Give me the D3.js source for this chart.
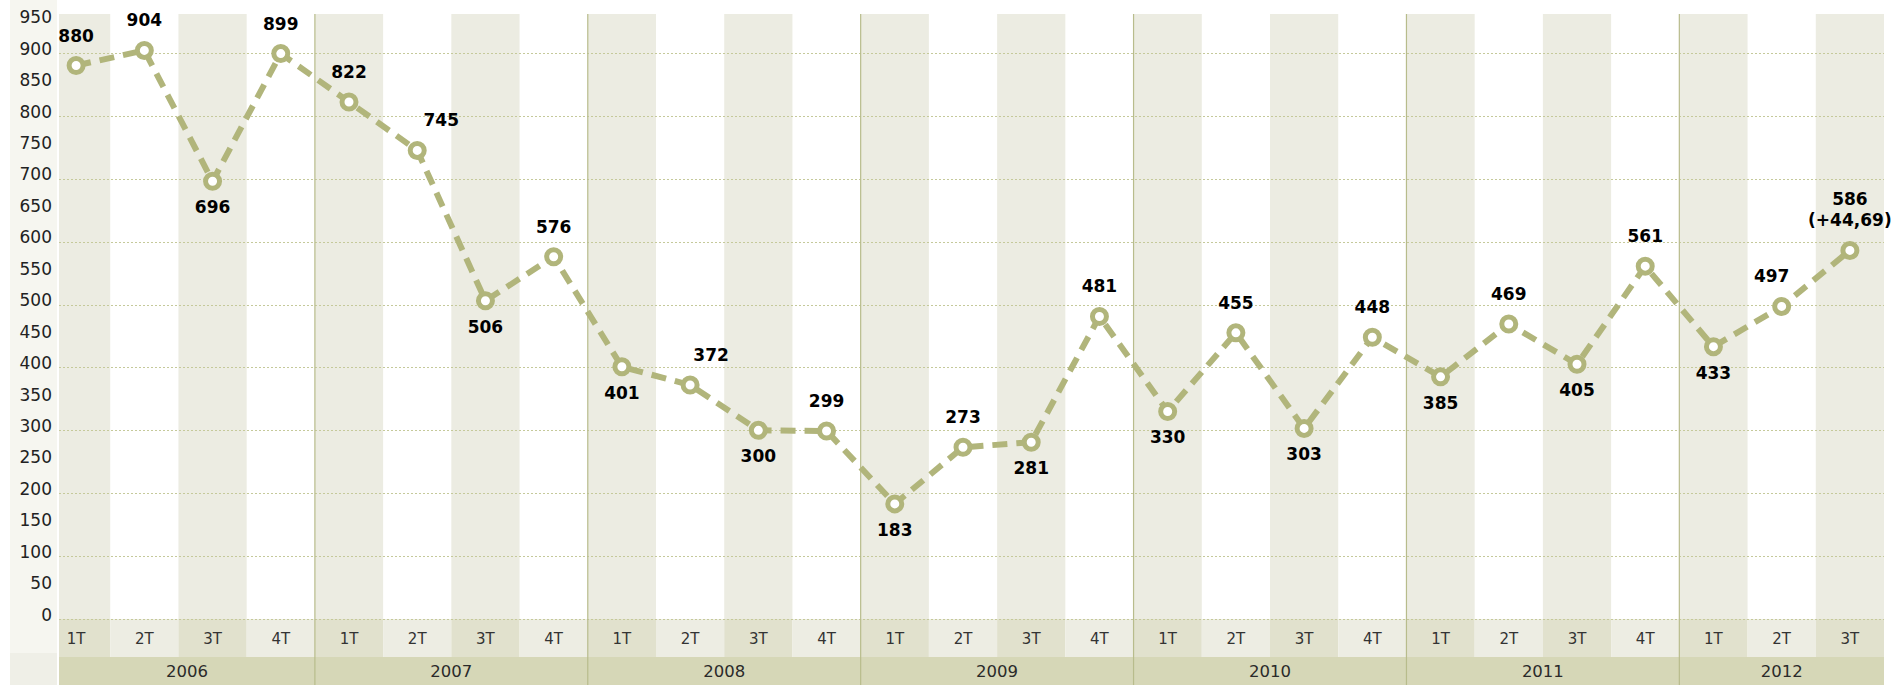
<!DOCTYPE html>
<html>
<head>
<meta charset="utf-8">
<script src="https://cdn.jsdelivr.net/npm/d3@7"></script>
<style>
  html, body { margin: 0; padding: 0; background: #fff; }
  svg { display: block; font-family: "DejaVu Sans", Verdana, sans-serif; }
</style>
</head>
<body>
<svg id="chart" width="1903" height="685"></svg>
<script>
// data
var years = ['2006', '2007', '2008', '2009', '2010', '2011', '2012'];
var quarters = ['1T', '2T', '3T', '4T'];
var values = [880, 904, 696, 899, 822, 745, 506, 576, 401, 372, 300, 299,
  183, 273, 281, 481, 330, 455, 303, 448, 385, 469, 405, 561, 433, 497, 586];
var lastNote = '(+44,69)';
var yTicks = d3.range(0, 951, 50);
var gridTicks = d3.range(0, 901, 100);

// label placement: 't' above the point, 'b' below
var labelSide = ['t', 't', 'b', 't', 't', 't', 'b', 't', 'b', 't', 'b', 't',
  'b', 't', 'b', 't', 'b', 't', 'b', 't', 'b', 't', 'b', 't', 'b', 't', 't'];
var labelNudge = {5: 24, 9: 21, 25: -10};

// quarter keys, years x quarters, trimmed to the number of values
var keys = [];
years.forEach(function(y) {
  quarters.forEach(function(q) { keys.push({year: y, q: q, key: y + '-' + q}); });
});
keys = keys.slice(0, values.length);

var opts = {
  plotLeft: 59,
  plotRight: 1884,
  plotTop: 14,
  baseY: 619,
  qRowBottom: 657,
  height: 685,
  olive: '#b1b57b',
  stripe: '#ecece2'
};

var svg = d3.select('#chart');

var x = d3.scaleBand()
  .domain(keys.map(function(d) { return d.key; }))
  .range([42, opts.plotRight])
  .padding(0);

var y = d3.scaleLinear()
  .domain([0, 950])
  .range([opts.baseY, 21.5]);

// left strip behind the value axis
svg.append('rect')
  .attr('x', 10).attr('y', 0)
  .attr('width', 47).attr('height', opts.height)
  .attr('fill', '#f6f6f0');
svg.append('rect')
  .attr('x', 10).attr('y', 653)
  .attr('width', 47).attr('height', opts.height - 653)
  .attr('fill', '#efefe7');

svg.append('clipPath').attr('id', 'plotClip')
  .append('rect')
  .attr('x', opts.plotLeft).attr('y', 0)
  .attr('width', opts.plotRight - opts.plotLeft).attr('height', opts.height);

var bg = svg.append('g').attr('clip-path', 'url(#plotClip)');

// column stripes (1T and 3T shaded)
bg.selectAll('rect.stripe')
  .data(keys.filter(function(d) { return d.q === '1T' || d.q === '3T'; }))
  .enter().append('rect')
  .attr('class', 'stripe')
  .attr('x', function(d) { return x(d.key); })
  .attr('y', opts.plotTop)
  .attr('width', x.bandwidth())
  .attr('height', opts.baseY - opts.plotTop)
  .attr('fill', opts.stripe);

// quarter row
bg.selectAll('rect.qcell')
  .data(keys)
  .enter().append('rect')
  .attr('class', 'qcell')
  .attr('x', function(d) { return x(d.key); })
  .attr('y', opts.baseY)
  .attr('width', x.bandwidth())
  .attr('height', opts.qRowBottom - opts.baseY)
  .attr('fill', function(d) { return (d.q === '1T' || d.q === '3T') ? '#e1e1cd' : '#ededE3'; });

// year row
bg.append('rect')
  .attr('x', opts.plotLeft).attr('y', opts.qRowBottom)
  .attr('width', opts.plotRight - opts.plotLeft)
  .attr('height', opts.height - opts.qRowBottom)
  .attr('fill', '#d6d7b7');

// gridlines
bg.selectAll('line.grid')
  .data(gridTicks)
  .enter().append('line')
  .attr('class', 'grid')
  .attr('x1', opts.plotLeft).attr('x2', opts.plotRight)
  .attr('y1', function(d) { return Math.round(y(d)) + 0.5; })
  .attr('y2', function(d) { return Math.round(y(d)) + 0.5; })
  .attr('stroke', '#c5c99a')
  .attr('stroke-width', 1)
  .attr('stroke-dasharray', '2,2');

// year separators
var yearStarts = years.map(function(yr) {
  var first = keys.filter(function(d) { return d.year === yr; });
  return {year: yr, x0: x(first[0].key), x1: x(first[first.length - 1].key) + x.bandwidth()};
});
bg.selectAll('line.sep')
  .data(yearStarts.slice(1))
  .enter().append('line')
  .attr('class', 'sep')
  .attr('x1', function(d) { return d.x0; })
  .attr('x2', function(d) { return d.x0; })
  .attr('y1', opts.plotTop)
  .attr('y2', opts.height)
  .attr('stroke', '#b8bc8c')
  .attr('stroke-width', 1.2);

// value axis labels
svg.append('g')
  .selectAll('text')
  .data(yTicks)
  .enter().append('text')
  .attr('x', 52)
  .attr('y', function(d) { return y(d); })
  .attr('dy', '0.1em')
  .attr('text-anchor', 'end')
  .attr('font-size', 17)
  .attr('fill', '#222')
  .text(function(d) { return d; });

// quarter labels
svg.append('g')
  .selectAll('text')
  .data(keys)
  .enter().append('text')
  .attr('x', function(d) { return x(d.key) + x.bandwidth() / 2; })
  .attr('y', 644)
  .attr('text-anchor', 'middle')
  .attr('font-size', 15)
  .attr('fill', '#333')
  .text(function(d) { return d.q; });

// year labels
svg.append('g')
  .selectAll('text')
  .data(yearStarts)
  .enter().append('text')
  .attr('x', function(d) { return (Math.max(d.x0, opts.plotLeft) + d.x1) / 2; })
  .attr('y', 677)
  .attr('text-anchor', 'middle')
  .attr('font-size', 16.5)
  .attr('fill', '#2a2a2a')
  .text(function(d) { return d.year; });

// series
var pts = keys.map(function(d, i) {
  return {key: d.key, value: values[i], i: i};
});
var cx = function(d) { return x(d.key) + x.bandwidth() / 2; };

svg.append('path')
  .datum(pts)
  .attr('d', d3.line().x(cx).y(function(d) { return y(d.value); }))
  .attr('fill', 'none')
  .attr('stroke', opts.olive)
  .attr('stroke-width', 6)
  .attr('stroke-dasharray', '15,9');

svg.append('g')
  .selectAll('circle')
  .data(pts)
  .enter().append('circle')
  .attr('cx', cx)
  .attr('cy', function(d) { return y(d.value); })
  .attr('r', 7)
  .attr('fill', '#fff')
  .attr('stroke', opts.olive)
  .attr('stroke-width', 5);

svg.append('g')
  .selectAll('text')
  .data(pts)
  .enter().append('text')
  .attr('x', function(d) { return cx(d) + (labelNudge[d.i] || 0); })
  .attr('y', function(d) {
    var py = y(d.value);
    if (d.i === pts.length - 1) return py - 45;
    return labelSide[d.i] === 't' ? py - 24 : py + 32;
  })
  .attr('text-anchor', 'middle')
  .attr('font-size', 17)
  .attr('font-weight', 'bold')
  .attr('fill', '#000')
  .text(function(d) { return d.value; });

// note under the last value
svg.append('text')
  .datum(pts[pts.length - 1])
  .attr('x', cx)
  .attr('y', function(d) { return y(d.value) - 24; })
  .attr('text-anchor', 'middle')
  .attr('font-size', 17)
  .attr('font-weight', 'bold')
  .attr('fill', '#000')
  .text(lastNote);
</script>
</body>
</html>
